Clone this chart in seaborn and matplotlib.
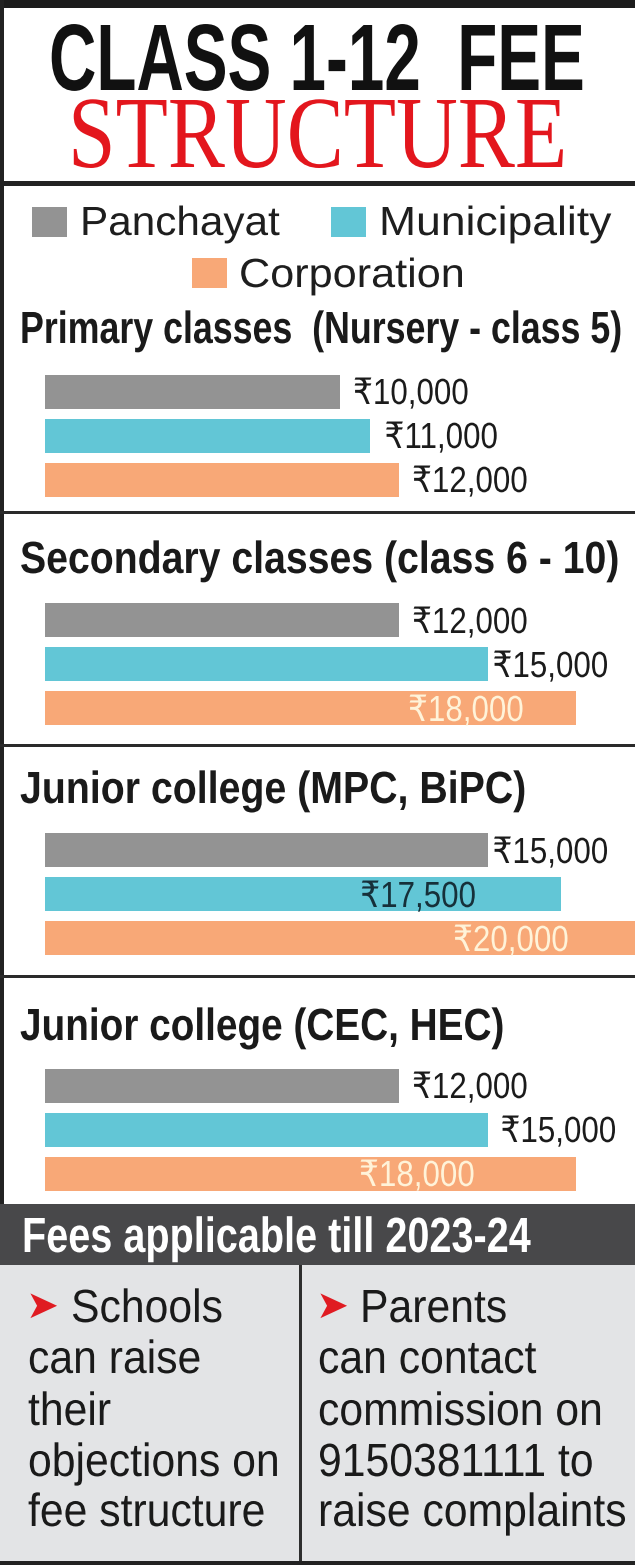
import numpy as np
import pandas as pd
import matplotlib.pyplot as plt
import seaborn as sns
from matplotlib.patches import Rectangle
from matplotlib.patheffects import AbstractPathEffect
from matplotlib.transforms import Affine2D

sections = ["Primary classes  (Nursery - class 5)", "Secondary classes (class 6 - 10)",
            "Junior college (MPC, BiPC)", "Junior college (CEC, HEC)"]
bodies = ["Panchayat", "Municipality", "Corporation"]
panchayat = [10000, 12000, 15000, 12000]
municipality = [11000, 15000, 17500, 15000]
corporation = [12000, 18000, 20000, 18000]
footnote = "Fees applicable till 2023-24"
left_note = ["Schools", "can raise", "their", "objections on", "fee structure"]
right_note = ["Parents", "can contact", "commission on", "9150381111 to", "raise complaints"]

df = pd.DataFrame({
    "section": np.repeat(sections, 3),
    "body": bodies * len(sections),
    "fee": np.column_stack([panchayat, municipality, corporation]).ravel(),
})

palette = {"Panchayat": "#939393", "Municipality": "#62c6d6", "Corporation": "#f8a877"}

sns.set_theme(style="white")
plt.rcParams["font.family"] = ["Liberation Sans", "DejaVu Sans"]

W, H = 635, 1565
fig = plt.figure(figsize=(W / 100, H / 100), dpi=100)
fig.patch.set_facecolor("white")
renderer = fig.canvas.get_renderer()

REG = ["Liberation Sans", "DejaVu Sans"]


class Tall(AbstractPathEffect):
    # stretches glyphs upward from the baseline (the graphic uses condensed type)
    def __init__(self, sy):
        super().__init__()
        self.sy = sy

    def draw_path(self, renderer, gc, tpath, affine, rgbFace=None):
        tr = Affine2D((Affine2D().scale(1, self.sy) + affine).get_matrix())
        renderer.draw_path(gc, tpath, tr, rgbFace)


def box(x0, y0, x1, y1, color, z=0):
    fig.patches.append(Rectangle((x0 / W, 1 - y1 / H), (x1 - x0) / W, (y1 - y0) / H,
                                 transform=fig.transFigure, color=color, lw=0, zorder=z))


def fit(s, width, **kw):
    # font size (pt) that gives the text this width in px
    probe = fig.text(0, 0, s, fontsize=20, **kw)
    w = probe.get_window_extent(renderer).width
    probe.remove()
    return 20 * width / w


def tall(size, cap, capr=0.688):
    return Tall(cap / (size / 0.72 * capr))


def put(x, y, s, width, cap, capr=0.688, **kw):
    kw.setdefault("family", REG)
    size = fit(s, width, family=kw["family"], weight=kw.get("weight", "normal"))
    return fig.text(x / W, 1 - y / H, s, fontsize=size, va="baseline", ha="left",
                    path_effects=[tall(size, cap, capr)], **kw)


# frame and panels
box(0, 0, W, 8, "#1c1c1c", 1)
box(0, 0, 4, H, "#222222", 1)
box(0, 181, W, 186, "#222222", 1)
for y in [511, 744, 975]:
    box(0, y, W, y + 3, "#2a2a2a", 1)
box(0, 1204, W, 1265, "#48484a", 1)
box(0, 1265, W, H, "#e3e4e6", 1)
box(299, 1265, 302, H, "#2e2e2e", 2)
box(0, 1561, W, H, "#222222", 2)

# title
put(49, 90, "CLASS 1-12  FEE", 536, 65, weight="bold", color="#111111")
put(68, 167, "STRUCTURE", 499, 67, capr=0.655, family=["Liberation Serif", "DejaVu Serif"],
    color="#e3161d")

# legend
leg_sq = [(32, 207), (331, 207), (192, 258)]
leg_txt = [(80, 235, 199), (379, 235, 232), (239, 287, 225)]
for b, (sx, sy), (tx, ty, tw) in zip(bodies, leg_sq, leg_txt):
    box(sx, sy, sx + 35, sy + 30, palette[b], 2)
    put(tx, ty, b, tw, 28, color="#1e1e1e")

# section headings
head_base = [343, 573, 803, 1040]
head_width = [601, 599, 506, 484]
for s, yb, w in zip(sections, head_base, head_width):
    put(20, yb, s, w, 31, weight="bold", color="#1a1a1a")

# value labels, fitted once on one label
lab_size = fit("₹10,000", 116, family=REG)
lab_fx = tall(lab_size, 25)

# label start from bar end in px (negative = inside the bar)
label_offsets = [[13, 15, 13], [13, 5, -168], [5, -201, -182], [13, 13, -217]]
mid_rows = [435.5, 664.5, 894.5, 1129.5]
gap = 44

for i, (sec, mid) in enumerate(zip(sections, mid_rows)):
    ax = fig.add_axes([45 / W, 1 - (mid + 1.5 * gap) / H, 590 / W, 3 * gap / H])
    ax.patch.set_visible(False)
    sub = df[df.section == sec]
    sns.barplot(data=sub, x="fee", y="body", hue="body", order=bodies, hue_order=bodies,
                palette=palette, width=34 / gap, dodge=False, errorbar=None, legend=False,
                saturation=1, linewidth=0, orient="h", ax=ax)
    ax.set_xlim(0, 20000)
    ax.set_ylim(2.5, -0.5)
    ax.axis("off")
    for j, (b, v) in enumerate(zip(sub.body, sub.fee)):
        off = label_offsets[i][j]
        if off > 0:
            col = "#1b1b1b"
        elif b == "Corporation":
            col = "#fff3d9"
        else:
            col = "#16303a"
        ax.annotate(f"₹{v:,}", xy=(v, j), xytext=(off * 0.72, -12.5 * 0.72),
                    textcoords="offset points", ha="left", va="baseline",
                    fontsize=lab_size, family=REG, color=col, path_effects=[lab_fx])

# footer
put(22, 1252, footnote, 508, 34, weight="bold", color="white")

arrow_size = fit("➤", 33, family=["DejaVu Sans"])
for x in [26, 316]:
    fig.text(x / W, 1 - 1318 / H, "➤", fontsize=arrow_size, va="baseline",
             family=["DejaVu Sans"], color="#e01b22")

note_base = [1322, 1373, 1425, 1476, 1526]
note_size = fit(left_note[3], 251, family=REG)
note_fx = tall(note_size, 32)
for k, (a, b, yb) in enumerate(zip(left_note, right_note, note_base)):
    xa = 71 if k == 0 else 28
    xb = 360 if k == 0 else 318
    for x, s in [(xa, a), (xb, b)]:
        fig.text(x / W, 1 - yb / H, s, fontsize=note_size, va="baseline", family=REG,
                 color="#1a1a1a", path_effects=[note_fx])

fig.savefig("out.png", dpi=100)
